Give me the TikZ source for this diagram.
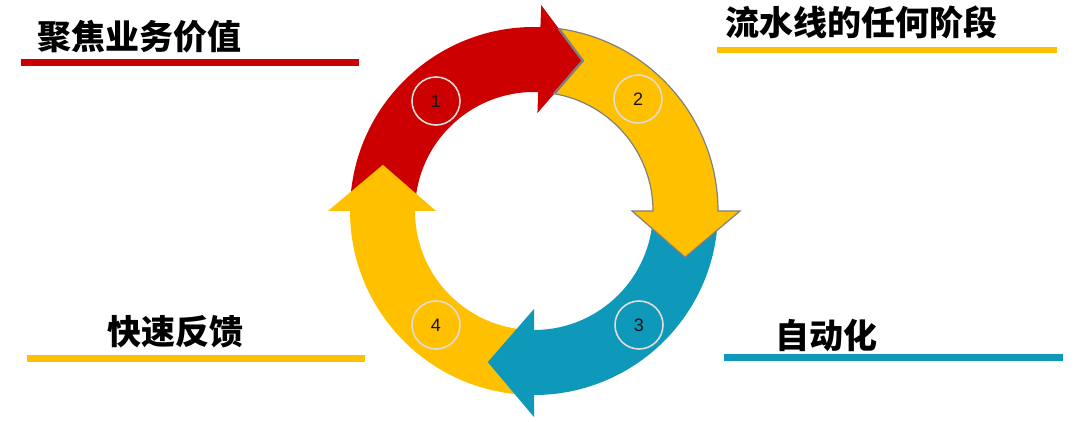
\documentclass[tikz,border=0pt]{standalone}
\usepackage{fontspec}
\setmainfont{Liberation Sans}
\newfontfamily\cjk{Noto Sans CJK SC}
\definecolor{cred}{RGB}{204,0,0}
\definecolor{cyel}{RGB}{255,192,0}
\definecolor{cblue}{RGB}{14,152,185}
\definecolor{cgray}{RGB}{128,128,128}
\definecolor{cring}{RGB}{225,220,215}
\begin{document}
\begin{tikzpicture}[x=1pt,y=1pt,
  title/.style={anchor=west, inner sep=0pt, font=\cjk\bfseries\fontsize{34}{37}\selectfont, text=black},
  bar/.style={line width=6.5pt},
  numc/.style={circle, minimum size=48pt, inner sep=0pt, draw=cring, line width=1.6pt, font=\fontsize{18}{20}\selectfont, text={rgb,255:red,20;green,20;blue,20}}]
\useasboundingbox (0,0) rectangle (1080,421);

% titles and bars
\node[title] (t1) at (37,384) {聚焦业务价值};
\node[title] (t2) at (725,399) {流水线的任何阶段};
\node[title] (t4) at (107,89) {快速反馈};
\node[title] (t3) at (775,86) {自动化};
\coordinate (b1a) at (21,358.5); \coordinate (b1b) at (359,358.5);
\coordinate (b2a) at (717,371); \coordinate (b2b) at (1057,371);
\coordinate (b4a) at (27,62.5); \coordinate (b4b) at (365,62.5);
\coordinate (b3a) at (724,63.5); \coordinate (b3b) at (1063,63.5);
\draw[bar, cred] (b1a) -- (b1b);
\draw[bar, cyel] (b2a) -- (b2b);
\draw[bar, cyel] (b4a) -- (b4b);
\draw[bar, cblue] (b3a) -- (b3b);

\begin{scope}[shift={(534,210)}]
  % bodies
  \fill[cred] (176:184) arc[start angle=176, end angle=86, radius=184] -- (86:119) arc[start angle=86, end angle=176, radius=119] -- cycle;
  \fill[cblue] (-4:184) arc[start angle=-4, end angle=-92, radius=184] -- (-92:119) arc[start angle=-92, end angle=-4, radius=119] -- cycle;
  \fill[cyel] (-94:184) arc[start angle=-94, end angle=-182, radius=184] -- (-182:119) arc[start angle=-182, end angle=-94, radius=119] -- cycle;
  % arrow 2 with outline
  \filldraw[fill=cyel, draw=cgray, line width=1.2pt, line join=miter]
    (84:184) arc[start angle=84, end angle=0, radius=184] -- (0:206) -- (-17:158) -- (0:98) -- (0:119) arc[start angle=0, end angle=84, radius=119] -- cycle;
  % heads
  \fill[cred] (88:98) -- (88:206) -- (72:158) -- cycle;
  \fill[cblue] (-90:98) -- (-90:206) -- (-107:158) -- cycle;
  \fill[cyel] (180:98) -- (180:206) -- (163:158) -- cycle;
  \begin{scope}
    \clip (84:184) arc[start angle=84, end angle=0, radius=184] -- (0:206) -- (-17:158) -- (0:98) -- (0:119) arc[start angle=0, end angle=84, radius=119] -- cycle;
    \draw[cgray, line width=2.4pt, line join=miter] (88:98) -- (72:158) -- (88:206);
  \end{scope}
\end{scope}

% numbered circles
\node[numc] (n1) at (436,320) {1};
\node[numc] (n2) at (638,322) {2};
\node[numc] (n3) at (639,96) {3};
\node[numc] (n4) at (436,96) {4};
\end{tikzpicture}
\end{document}
